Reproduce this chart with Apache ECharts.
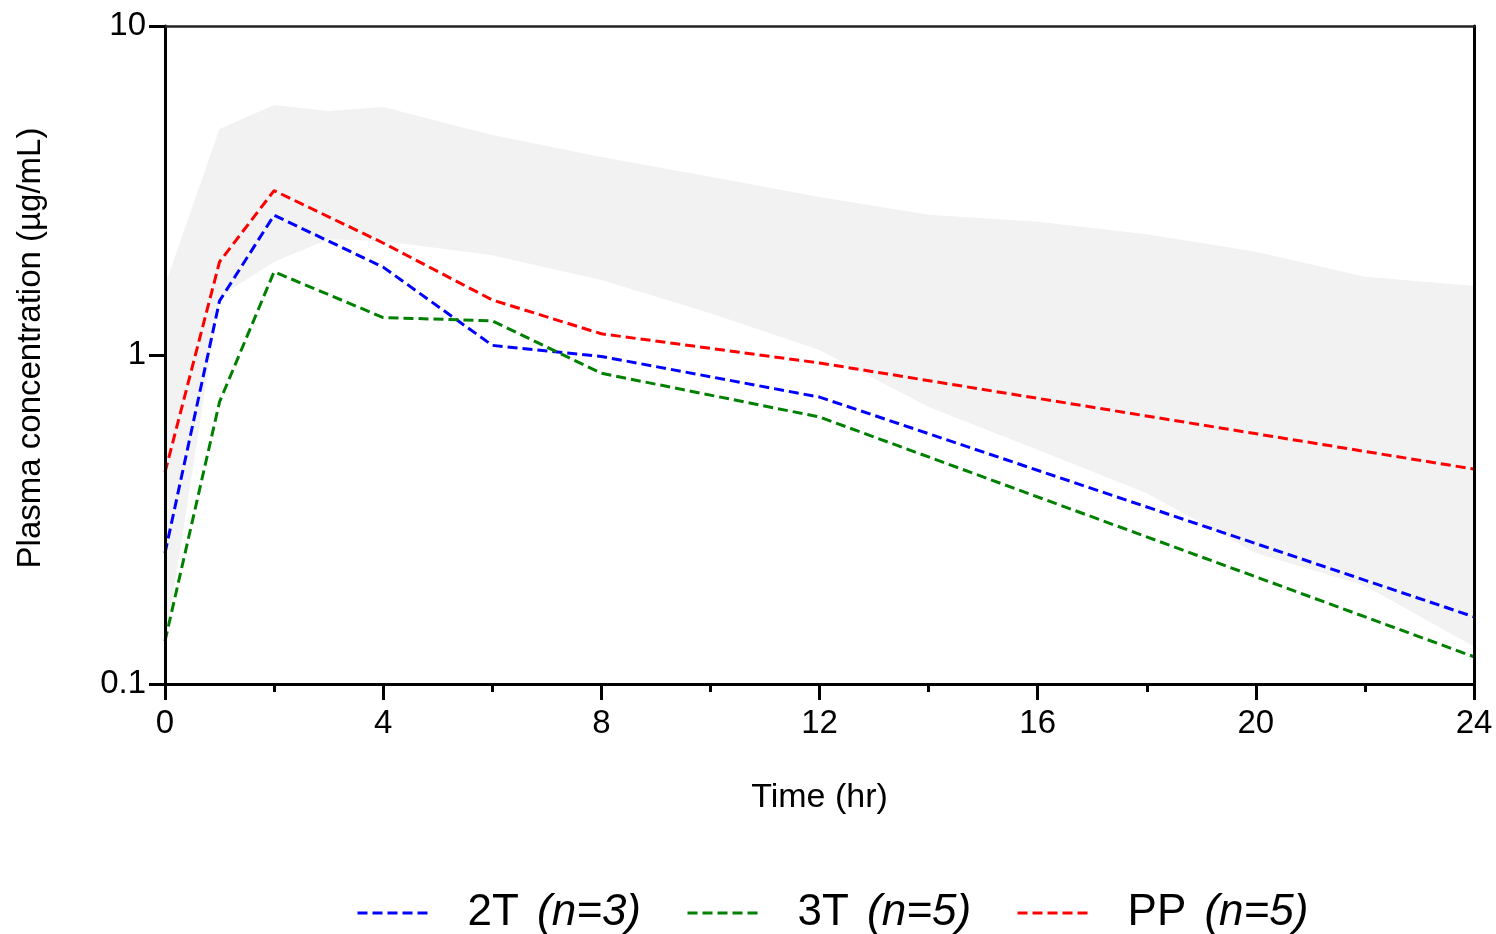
<!DOCTYPE html>
<html>
<head>
<meta charset="utf-8">
<script src="https://cdn.jsdelivr.net/npm/echarts@6/dist/echarts.min.js"></script>
<style>
html,body{margin:0;padding:0;background:#fff;}
#chart{width:1496px;height:934px;}
</style>
</head>
<body>
<div id="chart"></div>
<script>
// Observed mean profiles (time in hr, concentration in µg/mL)
const times = [0, 1, 2, 4, 6, 8, 12, 24];
const s2T = [0.25, 1.46, 2.66, 1.85, 1.07, 0.99, 0.745, 0.16];
const s3T = [0.135, 0.72, 1.79, 1.30, 1.27, 0.88, 0.648, 0.121];
const sPP = [0.44, 1.92, 3.16, 2.19, 1.47, 1.16, 0.946, 0.45];

// Shaded prediction band
const bandTimes = [0, 1, 2, 3, 4, 6, 8, 10, 12, 14, 16, 18, 20, 22, 24];
const bandHi = [1.63, 4.86, 5.75, 5.52, 5.67, 4.66, 4.0, 3.48, 3.02, 2.67, 2.54, 2.33, 2.06, 1.73, 1.62];
const bandLo = [0.13, 1.5, 1.92, 2.25, 2.22, 2.01, 1.69, 1.34, 1.035, 0.695, 0.515, 0.38, 0.25, 0.199, 0.13];

const seriesNames = ['2T', '3T', 'PP'];
const seriesCounts = ['(n=3)', '(n=5)', '(n=5)'];
const seriesColors = ['#0000ff', '#008000', '#ff0000'];
const seriesValues = [s2T, s3T, sPP];

const xTicks = [0, 4, 8, 12, 16, 20, 24];
const yTicks = [0.1, 1, 10];

const FONT = 'Liberation Sans, Arial, sans-serif';

const chart = echarts.init(document.getElementById('chart'), null, {renderer: 'canvas'});

const bandData = bandTimes.map((t, i) => [t, bandLo[i], bandHi[i]]);

const lineSeries = seriesNames.map((name, k) => ({
  name: name,
  type: 'line',
  data: times.map((t, i) => [t, seriesValues[k][i]]),
  symbol: 'none',
  showSymbol: false,
  z: 3,
  color: seriesColors[k],
  lineStyle: {color: seriesColors[k], width: 3, type: [10, 5]}
}));

const option = {
  animation: false,
  backgroundColor: '#fff',
  grid: {left: 165, right: 22, top: 26, bottom: 250, show: false},
  xAxis: [{
    type: 'value', min: 0, max: 24, interval: 4, z: 5,
    axisLine: {show: true, onZero: false, lineStyle: {color: '#000', width: 3}},
    axisTick: {show: true, length: 16, lineStyle: {color: '#000', width: 3}},
    minorTick: {show: true, splitNumber: 2, length: 8, lineStyle: {color: '#000', width: 3}},
    splitLine: {show: false},
    axisLabel: {fontSize: 33, color: '#000', fontFamily: FONT, margin: 23,
      formatter: v => xTicks.includes(v) ? String(v) : ''},
    name: 'Time (hr)', nameLocation: 'middle', nameGap: 97,
    nameTextStyle: {fontSize: 34, color: '#000', fontFamily: FONT}
  }, {
    type: 'value', min: 0, max: 24, position: 'top', z: 5,
    axisLine: {show: true, onZero: false, lineStyle: {color: '#222', width: 2.5}},
    axisTick: {show: false}, axisLabel: {show: false}, splitLine: {show: false}
  }],
  yAxis: [{
    type: 'log', logBase: 10, min: 0.1, max: 10, z: 5,
    axisLine: {show: true, onZero: false, lineStyle: {color: '#000', width: 3}},
    axisTick: {show: true, length: 16, lineStyle: {color: '#000', width: 3}},
    minorTick: {show: false},
    splitLine: {show: false},
    axisLabel: {fontSize: 33, color: '#000', fontFamily: FONT, margin: 19,
      formatter: v => {
        const m = yTicks.find(t => Math.abs(t - v) < 1e-9);
        return m !== undefined ? String(m) : '';
      }},
    name: 'Plasma concentration (µg/mL)', nameLocation: 'middle', nameGap: 118,
    nameTextStyle: {fontSize: 33, color: '#000', fontFamily: FONT, padding: [0, 0, 0, 14]}
  }, {
    type: 'log', logBase: 10, min: 0.1, max: 10, position: 'right', z: 5,
    axisLine: {show: true, onZero: false, lineStyle: {color: '#000', width: 3}},
    axisTick: {show: false}, axisLabel: {show: false}, splitLine: {show: false}
  }],
  legend: {
    data: seriesNames,
    left: 351, top: 886,
    orient: 'horizontal',
    itemWidth: 73, itemHeight: 20, itemGap: 45,
    itemStyle: {opacity: 0},
    lineStyle: {width: 3, type: [10, 5]},
    formatter: name => {
      const i = seriesNames.indexOf(name);
      return '{a|' + name + '} {b|' + seriesCounts[i] + '}';
    },
    textStyle: {
      fontSize: 44, color: '#000', fontFamily: FONT,
      rich: {
        a: {fontSize: 44, color: '#000', fontFamily: FONT, padding: [0, 0, 0, 32]},
        b: {fontSize: 44, color: '#000', fontFamily: FONT, fontStyle: 'italic', padding: [0, 0, 0, 6]}
      }
    }
  },
  series: [{
    type: 'custom',
    name: 'band',
    z: 1,
    silent: true,
    data: bandData,
    encode: {x: 0, y: [1, 2]},
    renderItem: function (params, api) {
      if (params.dataIndex !== 0) return null;
      const pts = [];
      for (let i = 0; i < bandData.length; i++) pts.push(api.coord([bandData[i][0], bandData[i][2]]));
      for (let i = bandData.length - 1; i >= 0; i--) pts.push(api.coord([bandData[i][0], bandData[i][1]]));
      return {type: 'polygon', shape: {points: pts}, style: {fill: '#f2f2f2', stroke: null}};
    }
  }].concat(lineSeries)
};

chart.setOption(option);
</script>
</body>
</html>
